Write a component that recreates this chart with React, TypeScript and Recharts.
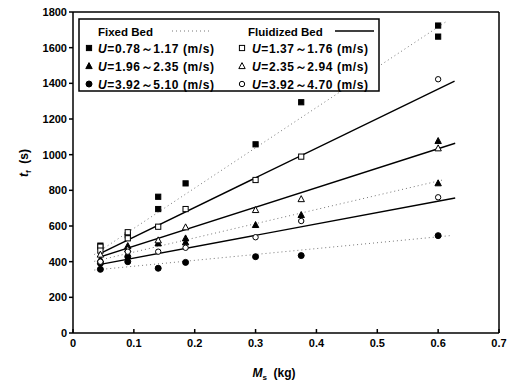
import React from "react";
import { ScatterChart, Scatter, XAxis, YAxis, ReferenceLine } from "recharts";

const xTicks = [0, 0.1, 0.2, 0.3, 0.4, 0.5, 0.6, 0.7];
const yTicks = [0, 200, 400, 600, 800, 1000, 1200, 1400, 1600, 1800];

// fixed bed (filled markers)
const fixedSquare = [[0.045, 490], [0.09, 548], [0.14, 764], [0.14, 695], [0.185, 839], [0.3, 1058], [0.375, 1294], [0.6, 1724], [0.6, 1662]];
const fixedTriangle = [[0.045, 413], [0.09, 488], [0.14, 503], [0.185, 531], [0.185, 509], [0.3, 606], [0.375, 662], [0.6, 840], [0.6, 1077]];
const fixedCircle = [[0.045, 357], [0.045, 391], [0.09, 400], [0.09, 428], [0.14, 363], [0.185, 396], [0.3, 428], [0.375, 434], [0.6, 546]];

// fluidized bed (open markers)
const fluidSquare = [[0.045, 484], [0.045, 462], [0.09, 565], [0.09, 531], [0.14, 596], [0.185, 695], [0.3, 858], [0.375, 989]];
const fluidTriangle = [[0.045, 440], [0.09, 470], [0.14, 520], [0.185, 593], [0.3, 690], [0.375, 751], [0.6, 1036]];
const fluidCircle = [[0.045, 400], [0.09, 456], [0.14, 456], [0.185, 478], [0.3, 537], [0.375, 628], [0.6, 761], [0.6, 1423]];

// fitted lines
const fixedFits = [
  [[0.035, 440], [0.615, 1750]],
  [[0.035, 402], [0.61, 860]],
  [[0.035, 353], [0.62, 546]],
];
const fluidFits = [
  [[0.045, 447], [0.627, 1413]],
  [[0.045, 427], [0.628, 1064]],
  [[0.045, 385], [0.628, 757]],
];

const toPts = (arr: number[][]) => arr.map(([x, y]) => ({ x, y }));

type Kind = "square" | "triangle" | "circle";

function Marker({ kind, filled, cx, cy }: { kind: Kind; filled: boolean; cx: number; cy: number }) {
  const fill = filled ? "#000" : "#fff";
  if (kind === "square") return <rect x={cx - 2.6} y={cy - 2.6} width={5.2} height={5.2} fill={fill} stroke="#000" strokeWidth={1} />;
  if (kind === "triangle")
    return <polygon points={`${cx},${cy - 3.4} ${cx + 3.2},${cy + 2.6} ${cx - 3.2},${cy + 2.6}`} fill={fill} stroke="#000" strokeWidth={1} />;
  return <circle cx={cx} cy={cy} r={filled ? 3 : 2.7} fill={fill} stroke="#000" strokeWidth={1} />;
}

const shape = (kind: Kind, filled: boolean) => (p: any) => <Marker kind={kind} filled={filled} cx={p.cx} cy={p.cy} />;

const font = "'Liberation Sans', Arial, sans-serif";

function LegendBox() {
  const rows: [Kind, string, string][] = [
    ["square", "0.78～1.17", "1.37～1.76"],
    ["triangle", "1.96～2.35", "2.35～2.94"],
    ["circle", "3.92～5.10", "3.92～4.70"],
  ];
  const ys = [48, 66, 84];
  return (
    <svg width={522} height={387} style={{ position: "absolute", left: 0, top: 0, pointerEvents: "none" }}>
      <rect x={79} y={19} width={300} height={72} fill="#fff" stroke="#000" strokeWidth={1.5} />
      <g fontFamily={font} fontWeight="bold" fill="#000">
        <text x={98} y={36} fontSize={11.5}>Fixed Bed</text>
        <line x1={172} y1={31} x2={210} y2={31} stroke="#777" strokeDasharray="1 3" />
        <text x={248} y={36} fontSize={11.5}>Fluidized Bed</text>
        <line x1={335} y1={31} x2={374} y2={31} stroke="#000" strokeWidth={1.3} />
        {rows.map(([k, a, b], i) => (
          <g key={k} fontSize={12} letterSpacing={0.6}>
            <Marker kind={k} filled cx={89} cy={ys[i]} />
            <text x={98} y={ys[i] + 4.5}>
              <tspan fontStyle="italic">U</tspan>={a} (m/s)
            </text>
            <Marker kind={k} filled={false} cx={242} cy={ys[i]} />
            <text x={252} y={ys[i] + 4.5}>
              <tspan fontStyle="italic">U</tspan>={b} (m/s)
            </text>
          </g>
        ))}
      </g>
    </svg>
  );
}

export default function App() {
  const tick = { fontSize: 11, fill: "#000", fontWeight: "bold", fontFamily: font } as const;
  return (
    <div style={{ position: "absolute", left: 0, top: 0, width: 522, height: 387, background: "#fff" }}>
      <ScatterChart width={522} height={387} margin={{ top: 12, right: 23, bottom: 0, left: 0 }}>
        <XAxis
          type="number"
          dataKey="x"
          domain={[0, 0.7]}
          ticks={xTicks}
          height={54}
          tickSize={-4}
          tickMargin={10}
          tick={tick}
          stroke="#000"
          strokeWidth={1.5}
          allowDataOverflow
        />
        <YAxis
          type="number"
          dataKey="y"
          domain={[0, 1800]}
          ticks={yTicks}
          width={73}
          tickSize={4}
          tickMargin={2}
          tick={tick}
          stroke="#000"
          strokeWidth={1.5}
          allowDataOverflow
        />
        <ReferenceLine x={0.7} stroke="#000" strokeWidth={1.5} />
        <ReferenceLine y={1800} stroke="#000" strokeWidth={1.5} />
        {fixedFits.map((seg, i) => (
          <ReferenceLine key={"fx" + i} segment={toPts(seg)} stroke="#777" strokeDasharray="1 3" strokeWidth={1} />
        ))}
        {fluidFits.map((seg, i) => (
          <ReferenceLine key={"fl" + i} segment={toPts(seg)} stroke="#000" strokeWidth={1.4} />
        ))}
        <Scatter data={toPts(fixedSquare)} shape={shape("square", true)} isAnimationActive={false} />
        <Scatter data={toPts(fixedTriangle)} shape={shape("triangle", true)} isAnimationActive={false} />
        <Scatter data={toPts(fixedCircle)} shape={shape("circle", true)} isAnimationActive={false} />
        <Scatter data={toPts(fluidSquare)} shape={shape("square", false)} isAnimationActive={false} />
        <Scatter data={toPts(fluidTriangle)} shape={shape("triangle", false)} isAnimationActive={false} />
        <Scatter data={toPts(fluidCircle)} shape={shape("circle", false)} isAnimationActive={false} />
      </ScatterChart>
      <LegendBox />
      <div
        style={{
          position: "absolute",
          left: 25,
          top: 163,
          transform: "translate(-50%, -50%) rotate(-90deg)",
          fontFamily: font,
          fontSize: 12,
          fontWeight: "bold",
          whiteSpace: "nowrap",
        }}
      >
        <i>t</i>
        <sub style={{ fontSize: 8 }}>f</sub>&nbsp;&nbsp;(s)
      </div>
      <div
        style={{
          position: "absolute",
          left: 274,
          top: 374,
          transform: "translate(-50%, -50%)",
          fontFamily: font,
          fontSize: 12,
          fontWeight: "bold",
          whiteSpace: "nowrap",
        }}
      >
        <i>M</i>
        <sub style={{ fontSize: 8 }}>s</sub>&nbsp;&nbsp;(kg)
      </div>
    </div>
  );
}
